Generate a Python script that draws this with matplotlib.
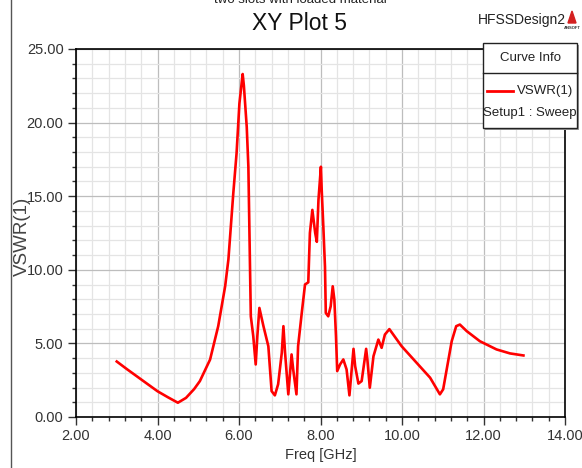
import numpy as np
import matplotlib
matplotlib.use("Agg")
from matplotlib import pyplot as plt
from matplotlib.patches import Rectangle, Polygon
from matplotlib.ticker import MultipleLocator, FormatStrFormatter

plt.rcParams['font.family'] = ['Liberation Sans', 'DejaVu Sans']

# VSWR sweep of port 1
freq = [3.0, 3.25, 3.5, 3.75, 4.0, 4.25, 4.5, 4.7, 4.9, 5.04, 5.29, 5.49, 5.66,
        5.74, 5.86, 5.94, 6.01, 6.09, 6.12, 6.19, 6.23, 6.27, 6.29, 6.35, 6.41,
        6.45, 6.50, 6.60, 6.72, 6.80, 6.88, 6.96, 7.05, 7.09, 7.13, 7.21, 7.29,
        7.33, 7.41, 7.45, 7.54, 7.62, 7.70, 7.74, 7.80, 7.87, 7.91, 7.95, 8.01,
        8.03, 8.07, 8.11, 8.13, 8.19, 8.25, 8.30, 8.34, 8.38, 8.41, 8.48, 8.56,
        8.64, 8.71, 8.81, 8.85, 8.93, 9.01, 9.12, 9.15, 9.21, 9.30, 9.42, 9.50,
        9.58, 9.69, 9.99, 10.69, 10.93, 11.01, 11.22, 11.33, 11.42, 11.59,
        11.91, 12.32, 12.65, 12.98]
vswr = [3.77, 3.25, 2.75, 2.25, 1.75, 1.35, 0.97, 1.3, 1.9, 2.44, 3.9, 6.17,
        8.88, 10.7, 15.2, 17.9, 21.3, 23.3, 22.5, 19.7, 17.0, 10.2, 6.84, 5.49,
        3.57, 5.49, 7.41, 6.17, 4.81, 1.76, 1.47, 2.22, 4.36, 6.17, 4.38, 1.54,
        4.25, 3.23, 1.54, 4.81, 7.07, 9.0, 9.15, 12.5, 14.07, 12.5, 11.9, 14.75,
        17.0, 15.4, 12.9, 10.2, 7.07, 6.84, 7.52, 8.88, 7.97, 5.49, 3.12, 3.57,
        3.91, 3.23, 1.47, 4.63, 3.46, 2.27, 2.44, 4.63, 3.91, 1.99, 4.13, 5.26,
        4.7, 5.6, 5.97, 4.81, 2.67, 1.54, 1.88, 5.15, 6.17, 6.28, 5.83, 5.15,
        4.59, 4.32, 4.18]

W, H = 582, 468


def fx(x):
    return x / W


def fy(y):
    return 1 - y / H


fig = plt.figure(figsize=(W / 100, H / 100), dpi=100)
ax = fig.add_axes([fx(76), fy(417), (565 - 76) / W, (417 - 49) / H])

ax.plot(freq, vswr, color='#ff0000', lw=1.9, zorder=3)

ax.set_xlim(2, 14)
ax.set_ylim(0, 25)
ax.xaxis.set_major_locator(MultipleLocator(2))
ax.xaxis.set_minor_locator(MultipleLocator(0.4))
ax.yaxis.set_major_locator(MultipleLocator(5))
ax.yaxis.set_minor_locator(MultipleLocator(1))
ax.xaxis.set_major_formatter(FormatStrFormatter('%.2f'))
ax.yaxis.set_major_formatter(FormatStrFormatter('%.2f'))
ax.grid(which='major', color='#bdbdbd', lw=0.9)
ax.grid(which='minor', color='#e4e4e4', lw=0.9)
ax.set_axisbelow(True)
for s in ax.spines.values():
    s.set_color('black')
    s.set_linewidth(1.2)
ax.tick_params(which='major', direction='out', length=5.5, width=1, pad=3.5,
               labelsize=10.5, colors='#333333', labelcolor='#333333')
ax.tick_params(which='minor', direction='out', length=3, width=1, colors='#333333')

# titles and axis labels
fig.text(fx(299), fy(23), 'XY Plot 5', fontsize=16.5, ha='center', va='center', color='#111111')
fig.text(fx(300), fy(0), 'two slots with loaded material', fontsize=9.5,
         ha='center', va='center', color='#222222')
fig.text(fx(522), fy(20), 'HFSSDesign2', fontsize=10, ha='center', va='center', color='#222222')
fig.text(fx(22), fy(236), 'VSWR(1)', fontsize=13.5, rotation=90, ha='center', va='center',
         color='#444444')
fig.text(fx(321), fy(455), 'Freq [GHz]', fontsize=10.5, ha='center', va='center', color='#333333')

# ansoft logo
fig.add_artist(Polygon([(fx(568), fy(23)), (fx(572), fy(11)), (fx(576), fy(23))],
                       closed=True, color='#d42020', transform=fig.transFigure))
fig.text(fx(572), fy(28), 'ANSOFT', fontsize=3, ha='center', va='center', weight='bold',
         color='#333333')

# left frame line
fig.add_artist(plt.Line2D([fx(11), fx(11)], [0, 1], color='#555555', lw=1,
                          transform=fig.transFigure))

# curve info box
fig.add_artist(Rectangle((fx(485), fy(130)), (577 - 483) / W, (128 - 43) / H,
                         transform=fig.transFigure, facecolor='#9a9a9a', edgecolor='none',
                         zorder=5))
fig.add_artist(Rectangle((fx(483), fy(128)), (577 - 483) / W, (128 - 43) / H,
                         transform=fig.transFigure, facecolor='white', edgecolor='#222222',
                         lw=1, zorder=6))
fig.add_artist(plt.Line2D([fx(483), fx(577)], [fy(73), fy(73)], color='#222222', lw=1,
                          transform=fig.transFigure, zorder=7))
fig.text(fx(530), fy(58), 'Curve Info', fontsize=9.5, ha='center', va='center',
         color='#222222', zorder=8)
fig.add_artist(plt.Line2D([fx(487), fx(513)], [fy(91), fy(91)], color='#ff0000', lw=2,
                          transform=fig.transFigure, zorder=8))
fig.text(fx(573), fy(91), 'VSWR(1)', fontsize=9.5, ha='right', va='center',
         color='#222222', zorder=8)
fig.text(fx(530), fy(113), 'Setup1 : Sweep', fontsize=9.5, ha='center', va='center',
         color='#222222', zorder=8)

plt.savefig('out.png', dpi=100)
